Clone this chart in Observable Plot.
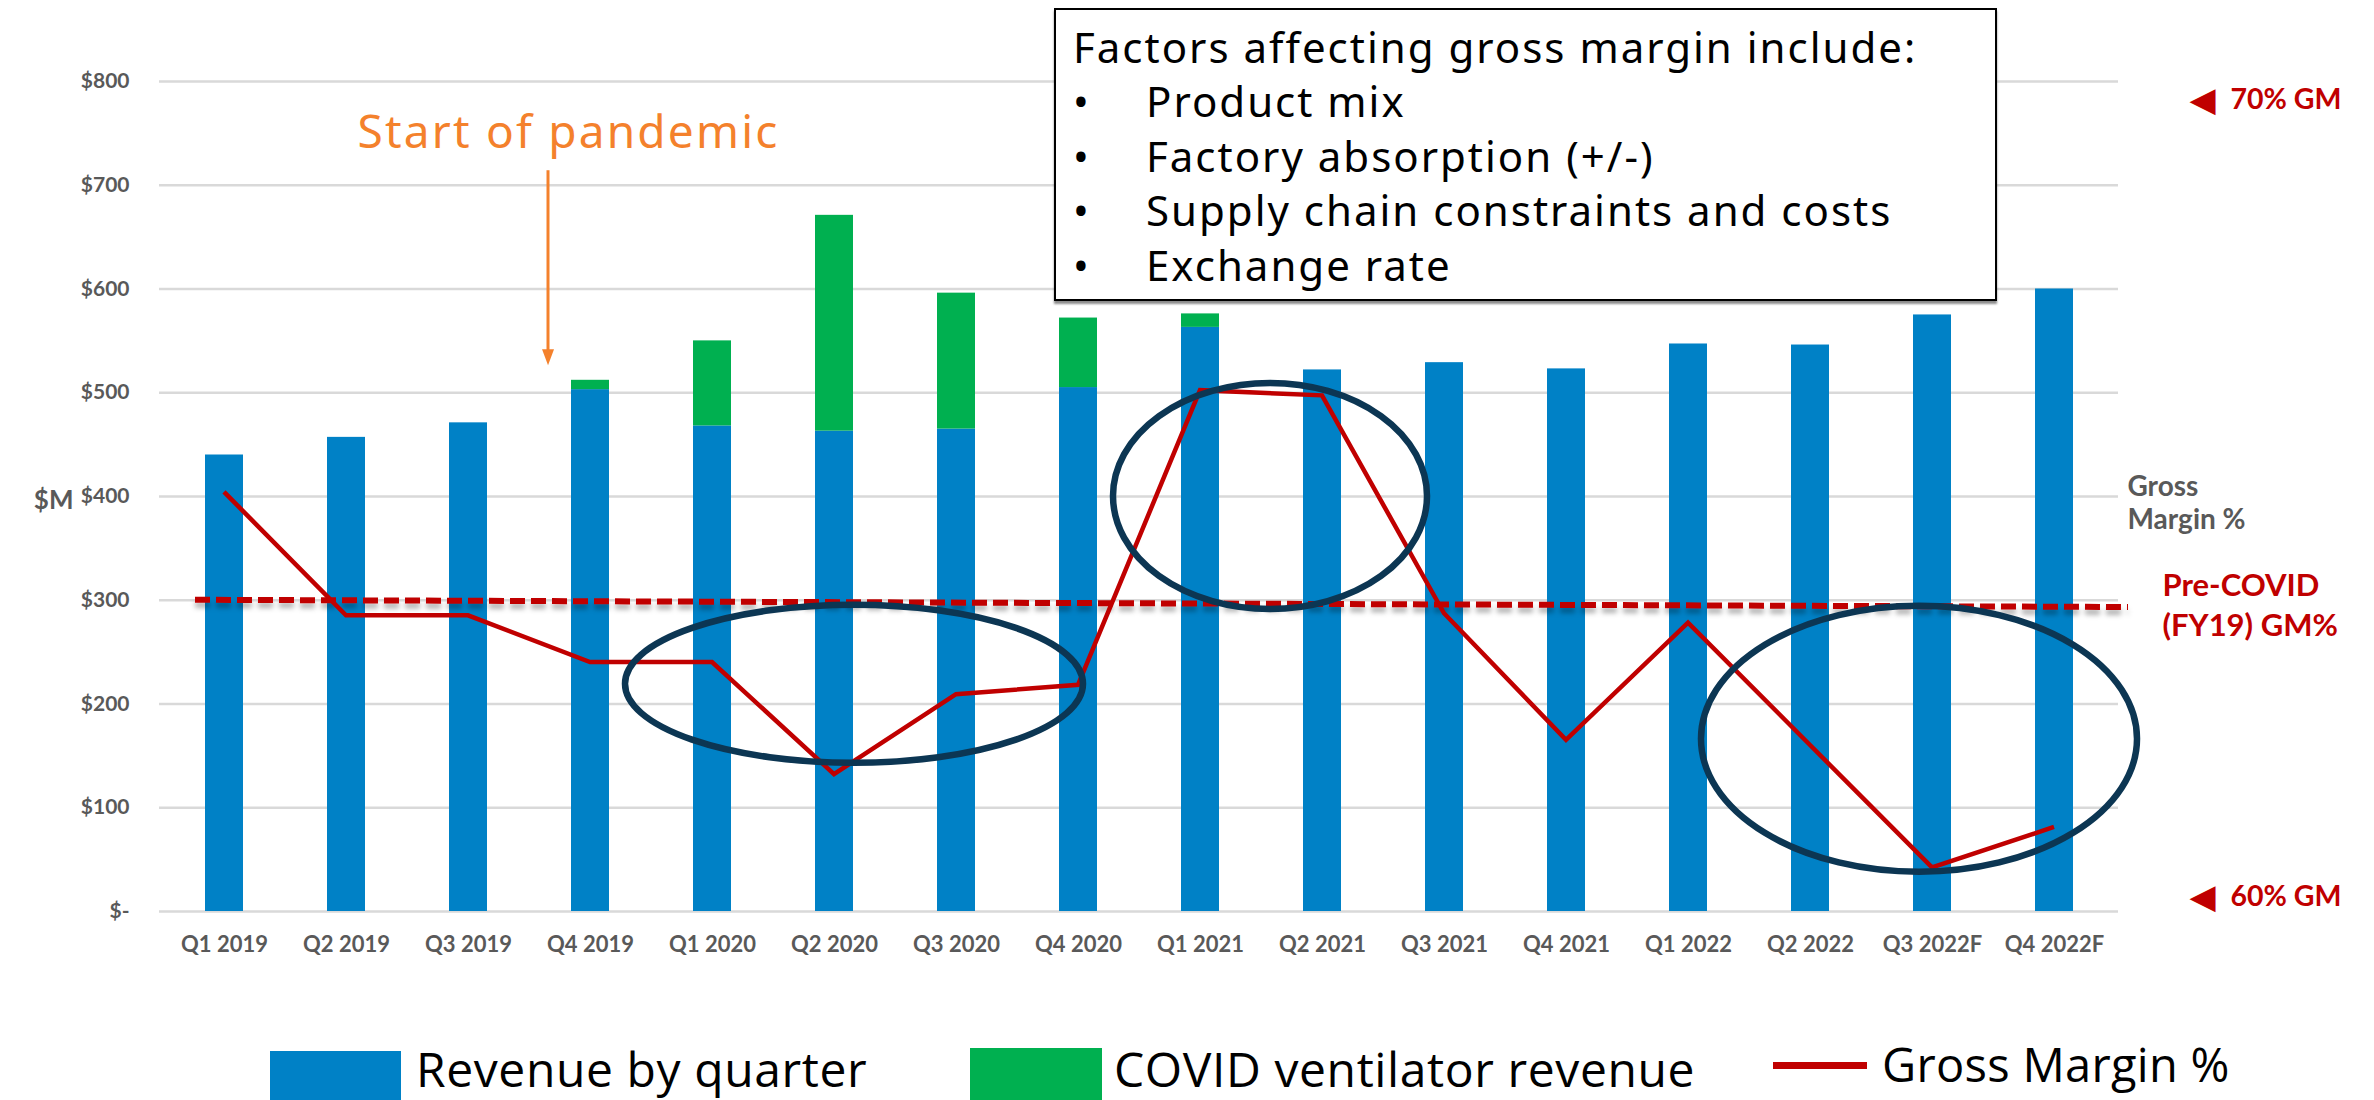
<!DOCTYPE html>
<html>
<head>
<meta charset="utf-8">
<script src="https://cdn.jsdelivr.net/npm/d3@7"></script>
<script src="https://cdn.jsdelivr.net/npm/@observablehq/plot@0.6"></script>
<style>
  body { margin: 0; background: #fff; width: 2374px; height: 1100px; overflow: hidden; position: relative; font-family: "Noto Sans", sans-serif; }
  #chart { position: absolute; left: 0; top: 0; }
  #factors { position: absolute; left: 1054px; top: 8px; width: 939px; height: 289px; border: 2px solid #000; background: #fff; box-shadow: 0 3px 2px rgba(0,0,0,0.45); font-family: "Noto Sans", sans-serif; font-size: 42px; letter-spacing: 2px; color: #000; }
  #factors .ln { position: absolute; white-space: nowrap; line-height: 54px; height: 54px; }
  .leg { position: absolute; }
  .legtxt { position: absolute; font-family: "Open Sans", sans-serif; font-size: 48px; letter-spacing: 0.6px; color: #000; white-space: nowrap; line-height: 50px; height: 50px; }
</style>
</head>
<body>
<div id="chart"></div>
<div id="factors"></div>
<div id="legend"></div>
<script>
// ---- data ----
const quarters = ["Q1 2019","Q2 2019","Q3 2019","Q4 2019","Q1 2020","Q2 2020","Q3 2020","Q4 2020",
                  "Q1 2021","Q2 2021","Q3 2021","Q4 2021","Q1 2022","Q2 2022","Q3 2022F","Q4 2022F"];
const baseRevenue = [440, 457, 471, 503, 468, 463, 465, 505, 563, 522, 529, 523, 547, 546, 575, 600];
const ventilatorRevenue = [0, 0, 0, 9, 82, 208, 131, 67, 13, 0, 0, 0, 0, 0, 0, 0];
// gross margin line, expressed in the units of the left ($M) axis as drawn
const grossMarginLine = [404, 285, 285, 240, 240, 132, 209, 218, 502, 497, 287, 165, 278, 160, 42, 81];
const preCovidGM = [300, 293]; // start and end of the dashed reference line
const yTicks = [0, 100, 200, 300, 400, 500, 600, 700, 800];
const seriesNames = ["Revenue by quarter", "COVID ventilator revenue"];
const lineName = "Gross Margin %";
const yUnitLabel = "$M";
const pandemicLabel = "Start of pandemic";
const pandemicQuarter = "Q4 2019";
const gmTopLabel = "70% GM";
const gmBottomLabel = "60% GM";
const gmAxisTitle = "Gross\nMargin %";
const preCovidLabel = "Pre-COVID\n(FY19) GM%";
const factorsTitle = "Factors affecting gross margin include:";
const factorItems = ["Product mix", "Factory absorption (+/-)", "Supply chain constraints and costs", "Exchange rate"];

// ---- colours ----
const BLUE = "#0081C6", GREEN = "#00B050", RED = "#C00000", NAVY = "#0C3653", ORANGE = "#F4812C", GRAY = "#595959";

const rows = quarters.flatMap((q, i) => [
  {quarter: q, series: seriesNames[0], value: baseRevenue[i]},
  {quarter: q, series: seriesNames[1], value: ventilatorRevenue[i]}
]);
const gmRows = quarters.map((q, i) => ({quarter: q, gm: grossMarginLine[i]}));
const fmt = d => d === 0 ? "$-" : "$" + d;

const chart = Plot.plot({
  width: 2374, height: 980,
  marginLeft: 159, marginRight: 256, marginTop: 81, marginBottom: 69,
  style: {fontFamily: "Lato, 'Open Sans', sans-serif", color: GRAY, background: "transparent", overflow: "visible"},
  x: {domain: quarters, paddingInner: 0.69, paddingOuter: 0.345, label: null},
  y: {domain: [0, 800], label: null},
  color: {domain: seriesNames, range: [BLUE, GREEN]},
  marks: [
    Plot.gridY(yTicks, {stroke: "#D9D9D9", strokeOpacity: 1, strokeWidth: 2.5}),
    Plot.axisY(yTicks, {tickSize: 0, tickPadding: 30, tickFormat: fmt, fontSize: 21, fontWeight: 700, label: null}),
    Plot.axisX({tickSize: 0, tickPadding: 25, fontSize: 22, fontWeight: 700, label: null}),
    Plot.barY(rows, {x: "quarter", y: "value", fill: "series", order: seriesNames}),
    Plot.text([yUnitLabel], {text: d => d, y: [396], frameAnchor: "left", dx: -86, textAnchor: "end", fontSize: 26, fontWeight: 700, fill: GRAY}),
    Plot.text([gmAxisTitle], {text: d => d, y: [395], frameAnchor: "right", dx: 9, textAnchor: "start", fontSize: 28, fontWeight: 700, fill: GRAY, lineHeight: 1.2}),
    Plot.text([preCovidLabel], {text: d => d, y: [297], frameAnchor: "right", dx: 44, textAnchor: "start", fontSize: 31, fontWeight: 700, fill: RED, lineHeight: 1.28}),
    Plot.text([gmTopLabel, gmBottomLabel], {text: d => d, y: [782, 14], frameAnchor: "right", dx: 112, textAnchor: "start", fontSize: 28.5, fontWeight: 700, fill: RED}),
    Plot.text(["\u25C0", "\u25C0"], {text: d => d, y: [782, 14], frameAnchor: "right", dx: 71, textAnchor: "start", fontSize: 34, fill: RED, fontFamily: "DejaVu Sans"}),
    Plot.text([pandemicLabel], {text: d => d, x: [pandemicQuarter], y: [750], dx: -22, fontSize: 46, fill: ORANGE, fontFamily: "'Noto Sans', sans-serif"})
  ]
});
document.getElementById("chart").appendChild(chart);

// ---- overlays drawn with the plot's own scales ----
const xs = chart.scale("x"), ys = chart.scale("y");
const cx = q => xs.apply(q) + xs.bandwidth / 2;
const svg = d3.select(chart);
svg.selectAll("text").filter(function () { return this.textContent === pandemicLabel; }).attr("letter-spacing", "2.2px");

const defs = svg.append("defs");
const f = defs.append("filter").attr("id", "shadow").attr("x", "-5%").attr("y", "-200%").attr("width", "110%").attr("height", "500%");
f.append("feDropShadow").attr("dx", 0).attr("dy", 5).attr("stdDeviation", 2.5).attr("flood-color", "#000").attr("flood-opacity", 0.3);

// dashed pre-COVID GM reference (below the GM line)
const xStart = cx(quarters[0]) - 29, xEnd = xs.range[1] + 10;
const gLines = svg.append("g");
gLines.append("line")
  .attr("x1", xStart).attr("x2", xEnd)
  .attr("y1", ys.apply(preCovidGM[0])).attr("y2", ys.apply(preCovidGM[1]))
  .attr("stroke", RED).attr("stroke-width", 6).attr("stroke-dasharray", "15 6")
  .attr("filter", "url(#shadow)");

// gross margin line
const line = d3.line().x(d => cx(d.quarter)).y(d => ys.apply(d.gm));
gLines.append("path").attr("d", line(gmRows)).attr("fill", "none")
  .attr("stroke", RED).attr("stroke-width", 4.5).attr("stroke-linejoin", "miter");

// ellipses highlighting periods
const ellipses = [
  {q: "Q2 2020", off: 20, v: 219, rx: 229, ry: 79},
  {q: "Q1 2021", off: 70, v: 400, rx: 157, ry: 113},
  {q: "Q2 2022", off: 109, v: 166, rx: 218, ry: 133}
];
svg.append("g").selectAll("ellipse").data(ellipses).join("ellipse")
  .attr("cx", d => cx(d.q) + d.off).attr("cy", d => ys.apply(d.v))
  .attr("rx", d => d.rx).attr("ry", d => d.ry)
  .attr("fill", "none").attr("stroke", NAVY).attr("stroke-width", 6.5);

// pandemic arrow
const ax = cx(pandemicQuarter) - 42;
const yTop = ys.apply(714), yTip = ys.apply(526);
svg.append("line").attr("x1", ax).attr("x2", ax).attr("y1", yTop).attr("y2", yTip - 14)
  .attr("stroke", ORANGE).attr("stroke-width", 3);
svg.append("path").attr("d", `M${ax - 6},${yTip - 16}L${ax + 6},${yTip - 16}L${ax},${yTip}Z`).attr("fill", ORANGE);

// ---- factors box ----
const box = document.getElementById("factors");
const centers = [37, 91, 146, 200, 255];
const addLn = (txt, left, top) => { const s = document.createElement("div"); s.className = "ln"; s.textContent = txt; s.style.left = left + "px"; s.style.top = top + "px"; box.appendChild(s); };
addLn(factorsTitle, 17, centers[0] - 27);
factorItems.forEach((t, i) => { addLn("\u2022", 17, centers[i + 1] - 27); addLn(t, 90, centers[i + 1] - 27); });

// ---- legend ----
const leg = document.getElementById("legend");
const addDiv = (cls, css, txt) => { const d = document.createElement("div"); d.className = cls; Object.assign(d.style, css); if (txt) d.textContent = txt; leg.appendChild(d); };
addDiv("leg", {left: "270px", top: "1051px", width: "131px", height: "49px", background: BLUE});
addDiv("legtxt", {left: "416px", top: "1044px"}, seriesNames[0]);
addDiv("leg", {left: "970px", top: "1048px", width: "132px", height: "52px", background: GREEN});
addDiv("legtxt", {left: "1114px", top: "1044px"}, seriesNames[1]);
addDiv("leg", {left: "1773px", top: "1062px", width: "94px", height: "7px", background: RED});
addDiv("legtxt", {left: "1882px", top: "1039px", fontSize: "47px", letterSpacing: "0.3px"}, lineName);
</script>
</body>
</html>
